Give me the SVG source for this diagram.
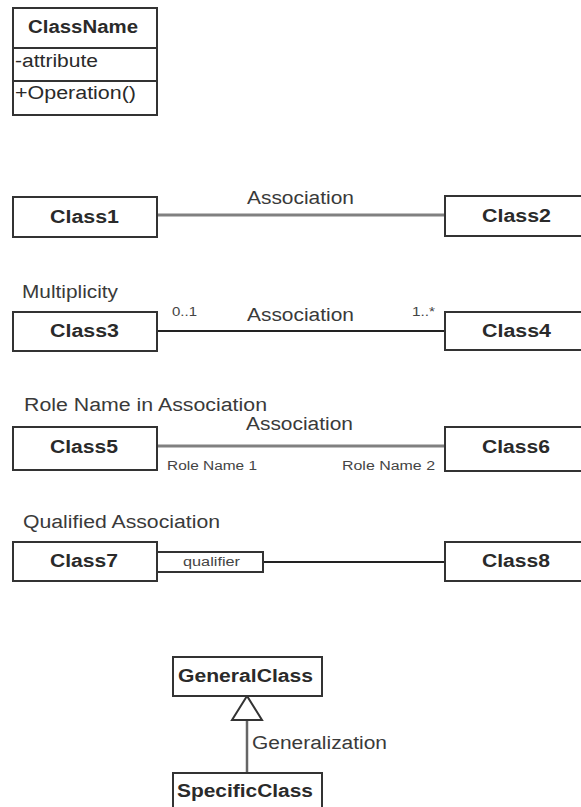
<svg xmlns="http://www.w3.org/2000/svg" width="581" height="807" viewBox="0 0 581 807">
  <style>
    .box { fill: #ffffff; stroke: #333333; stroke-width: 2; }
    .name { font-family: "Liberation Sans", Arial, sans-serif; font-weight: bold; font-size: 18px; fill: #2a2a2a; }
    .member { font-family: "Liberation Sans", Arial, sans-serif; font-size: 18px; fill: #2a2a2a; }
    .label { font-family: "Liberation Sans", Arial, sans-serif; font-size: 18px; fill: #3a3a3a; }
    .small { font-family: "Liberation Sans", Arial, sans-serif; font-size: 12.5px; fill: #444444; }
    .assoc-gray { stroke: #808080; stroke-width: 3; fill: none; }
    .assoc-dark { stroke: #222222; stroke-width: 2; fill: none; }
  </style>
  <rect width="581" height="807" fill="#ffffff"/>

  <!-- class notation -->
  <g id="classname">
    <rect class="box" x="13" y="8" width="144" height="107"/>
    <line x1="13" y1="48" x2="157" y2="48" stroke="#333333" stroke-width="2"/>
    <line x1="13" y1="81" x2="157" y2="81" stroke="#333333" stroke-width="2"/>
    <text class="name" x="28" y="33" textLength="110" lengthAdjust="spacingAndGlyphs">ClassName</text>
    <text class="member" x="15" y="67" textLength="83" lengthAdjust="spacingAndGlyphs">-attribute</text>
    <text class="member" x="15" y="99" textLength="121" lengthAdjust="spacingAndGlyphs">+Operation()</text>
  </g>

  <!-- section captions -->
  <g id="captions">
    <text class="label" x="22" y="298" textLength="96" lengthAdjust="spacingAndGlyphs">Multiplicity</text>
    <text class="label" x="24" y="411" textLength="243" lengthAdjust="spacingAndGlyphs">Role Name in Association</text>
    <text class="label" x="23" y="528" textLength="197" lengthAdjust="spacingAndGlyphs">Qualified Association</text>
  </g>

  <!-- connectors -->
  <g id="connectors">
    <line class="assoc-gray" x1="157" y1="215" x2="445" y2="215"/>
    <line class="assoc-dark" x1="157" y1="331" x2="445" y2="331"/>
    <line class="assoc-gray" x1="157" y1="446" x2="445" y2="446" stroke-width="2.5"/>
    <line class="assoc-dark" x1="263" y1="562" x2="445" y2="562"/>
    <line x1="247" y1="720" x2="247" y2="773" stroke="#666666" stroke-width="2.5"/>
    <polygon points="247,696 232,720 262,720" fill="#ffffff" stroke="#333333" stroke-width="2"/>
    <text class="label" x="247" y="204" textLength="107" lengthAdjust="spacingAndGlyphs">Association</text>
    <text class="label" x="247" y="321" textLength="107" lengthAdjust="spacingAndGlyphs">Association</text>
    <text class="label" x="246" y="430" textLength="107" lengthAdjust="spacingAndGlyphs">Association</text>
    <text class="small" x="172" y="316" textLength="25" lengthAdjust="spacingAndGlyphs">0..1</text>
    <text class="small" x="412" y="316" textLength="23" lengthAdjust="spacingAndGlyphs">1..*</text>
    <text class="small" x="167" y="470" textLength="90" lengthAdjust="spacingAndGlyphs">Role Name 1</text>
    <text class="small" x="342" y="470" textLength="93" lengthAdjust="spacingAndGlyphs">Role Name 2</text>
    <text class="label" x="252" y="749" textLength="135" lengthAdjust="spacingAndGlyphs">Generalization</text>
  </g>

  <g id="class1">
    <rect class="box" x="13" y="197" width="144" height="40"/>
    <text class="name" x="50" y="223" textLength="69" lengthAdjust="spacingAndGlyphs">Class1</text>
  </g>
  <g id="class2">
    <rect class="box" x="445" y="196" width="150" height="40"/>
    <text class="name" x="482" y="222" textLength="69" lengthAdjust="spacingAndGlyphs">Class2</text>
  </g>

  <g id="class3">
    <rect class="box" x="13" y="312" width="144" height="39"/>
    <text class="name" x="50" y="337" textLength="69" lengthAdjust="spacingAndGlyphs">Class3</text>
  </g>
  <g id="class4">
    <rect class="box" x="445" y="312" width="150" height="38"/>
    <text class="name" x="482" y="337" textLength="69" lengthAdjust="spacingAndGlyphs">Class4</text>
  </g>

  <g id="class5">
    <rect class="box" x="13" y="427" width="144" height="43"/>
    <text class="name" x="50" y="453" textLength="68" lengthAdjust="spacingAndGlyphs">Class5</text>
  </g>
  <g id="class6">
    <rect class="box" x="445" y="427" width="150" height="44"/>
    <text class="name" x="482" y="453" textLength="68" lengthAdjust="spacingAndGlyphs">Class6</text>
  </g>

  <g id="class7">
    <rect class="box" x="13" y="542" width="144" height="39"/>
    <text class="name" x="50" y="567" textLength="68" lengthAdjust="spacingAndGlyphs">Class7</text>
    <rect class="box" x="157" y="552" width="106" height="20" stroke-width="1.5"/>
    <text class="small" x="183" y="566" textLength="57" lengthAdjust="spacingAndGlyphs">qualifier</text>
  </g>
  <g id="class8">
    <rect class="box" x="445" y="542" width="150" height="39"/>
    <text class="name" x="482" y="567" textLength="68" lengthAdjust="spacingAndGlyphs">Class8</text>
  </g>

  <g id="generalclass">
    <rect class="box" x="173" y="657" width="149" height="39"/>
    <text class="name" x="178" y="682" textLength="135" lengthAdjust="spacingAndGlyphs">GeneralClass</text>
  </g>
  <g id="specificclass">
    <rect class="box" x="173" y="773" width="149" height="45"/>
    <text class="name" x="177" y="797" textLength="136" lengthAdjust="spacingAndGlyphs">SpecificClass</text>
  </g>
</svg>
